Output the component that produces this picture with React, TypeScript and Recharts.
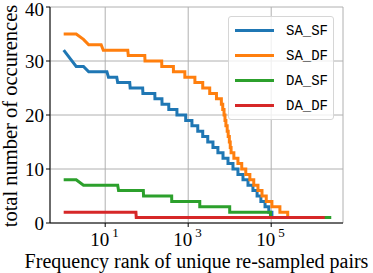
import { LineChart, Line, XAxis, YAxis, CartesianGrid } from "recharts";

const seriesNames = ["SA_SF", "SA_DF", "DA_SF", "DA_DF"];
const seriesColors = ["#1f77b4", "#ff7f0e", "#2ca02c", "#d62728"];

// each series: count value of a plateau and the last rank that has it
const saSfCounts = [32, 29, 28, 27, 26, 25, 24, 23, 22, 21, 20, 19, 18, 17, 16, 15, 14, 13, 12, 11, 10, 9, 8, 7, 6, 5, 4, 3, 2, 1];
const saSfEnds = [1, 3, 11, 19, 39, 80, 157, 233, 340, 535, 870, 1230, 1700, 2240, 2960, 3950, 5200, 6900, 9100, 12000, 15800, 20900, 27600, 36300, 45700, 56400, 71000, 87500, 104000, 108000];

const saDfCounts = [35, 34, 33, 32, 31, 30, 29, 28, 27, 26, 25, 24, 23, 22, 21, 20, 19, 18, 17, 16, 15, 14, 13, 12, 11, 10, 9, 8, 7, 6, 5, 4, 3, 2, 1];
const saDfEnds = [2, 3, 8, 35, 90, 230, 440, 830, 1450, 2240, 3300, 4800, 6300, 6800, 7300, 7700, 8100, 8700, 9200, 9800, 10300, 10800, 12600, 15800, 19500, 24400, 30600, 38000, 48000, 60000, 76000, 104000, 162000, 250000, 260000];

const daSfCounts = [8, 7, 6, 5, 4, 3, 2, 1];
const daSfEnds = [2, 20, 83, 400, 1900, 10000, 96000, 2800000];

const daDfCounts = [2, 1];
const daDfEnds = [55, 1950000];

const xTicks = [10, 1000, 100000];
const yTicks = [0, 10, 20, 30, 40];

function steps(counts: number[], ends: number[]) {
  const pts: { x: number; y: number }[] = [];
  counts.forEach((c, i) => {
    const start = i === 0 ? 1 : ends[i - 1] + 1;
    pts.push({ x: start, y: c });
    if (ends[i] !== start) pts.push({ x: ends[i], y: c });
  });
  return pts;
}

const seriesData = [
  steps(saSfCounts, saSfEnds),
  steps(saDfCounts, saDfEnds),
  steps(daSfCounts, daSfEnds),
  steps(daDfCounts, daDfEnds),
];

const serif = "'Liberation Serif', 'DejaVu Serif', serif";
const mono = "'Liberation Mono', 'DejaVu Sans Mono', monospace";

function LogTick(props: any) {
  const { x, y, payload } = props;
  const exp = Math.round(Math.log10(payload.value));
  return (
    <g>
      <text x={x + 4} y={y + 17} textAnchor="end" fontFamily={serif} fontSize={19} fill="#000">
        10
      </text>
      <text x={x + 7} y={y + 8} textAnchor="start" fontFamily={serif} fontSize={13} fill="#000">
        {exp}
      </text>
    </g>
  );
}

function YTick(props: any) {
  const { x, y, payload } = props;
  return (
    <text x={x} y={y} dy={6.5} textAnchor="end" fontFamily={serif} fontSize={19} fill="#000">
      {payload.value}
    </text>
  );
}

export default function App() {
  return (
    <div style={{ position: "absolute", left: 0, top: 0, width: 373, height: 273, background: "#fff" }}>
      <LineChart width={373} height={273} margin={{ top: 7, right: 30, left: 0, bottom: 0 }}>
        <CartesianGrid stroke="#b0b0b0" strokeWidth={1} />
        <XAxis
          dataKey="x"
          type="number"
          scale="log"
          domain={[0.468, 5370000]}
          allowDataOverflow
          ticks={xTicks}
          height={50}
          tickSize={4}
          tick={<LogTick />}
          axisLine={{ stroke: "#000" }}
          tickLine={{ stroke: "#000" }}
        />
        <XAxis
          xAxisId="top"
          orientation="top"
          type="number"
          domain={[0, 1]}
          height={0}
          tick={false}
          tickLine={false}
          axisLine={{ stroke: "#000" }}
        />
        <YAxis
          type="number"
          domain={[0, 40]}
          ticks={yTicks}
          width={50}
          tickSize={4}
          tick={<YTick />}
          axisLine={{ stroke: "#000" }}
          tickLine={{ stroke: "#000" }}
        />
        <YAxis
          yAxisId="right"
          orientation="right"
          type="number"
          domain={[0, 1]}
          width={0}
          tick={false}
          tickLine={false}
          axisLine={{ stroke: "#000" }}
        />
        {seriesData.map((d, i) => (
          <Line
            key={seriesNames[i]}
            data={d}
            dataKey="y"
            type="linear"
            stroke={seriesColors[i]}
            strokeWidth={3}
            dot={false}
            isAnimationActive={false}
          />
        ))}
      </LineChart>
      <svg width={373} height={273} style={{ position: "absolute", left: 0, top: 0, pointerEvents: "none" }}>
        <text x={196.5} y={268} textAnchor="middle" fontFamily={serif} fontSize={20} fill="#000">
          Frequency rank of unique re-sampled pairs
        </text>
        <text
          transform="translate(17,116) rotate(-90)"
          textAnchor="middle"
          fontFamily={serif}
          fontSize={20.5}
          fill="#000"
        >
          total number of occurences
        </text>
      </svg>
      <div
        style={{
          position: "absolute",
          left: 228,
          top: 16,
          width: 106,
          height: 104,
          boxSizing: "border-box",
          border: "1px solid #d6d6d6",
          borderRadius: 3,
          background: "rgba(255,255,255,0.8)",
        }}
      >
        {seriesNames.map((n, i) => (
          <div key={n} style={{ position: "absolute", left: 0, top: 4 + i * 25, height: 20, width: 104 }}>
            <div
              style={{
                position: "absolute",
                left: 6,
                top: 8,
                width: 39,
                height: 3,
                background: seriesColors[i],
              }}
            />
            <div
              style={{
                position: "absolute",
                left: 57,
                top: 0,
                fontFamily: mono,
                fontSize: 14,
                lineHeight: "20px",
                color: "#000",
              }}
            >
              {n}
            </div>
          </div>
        ))}
      </div>
    </div>
  );
}
